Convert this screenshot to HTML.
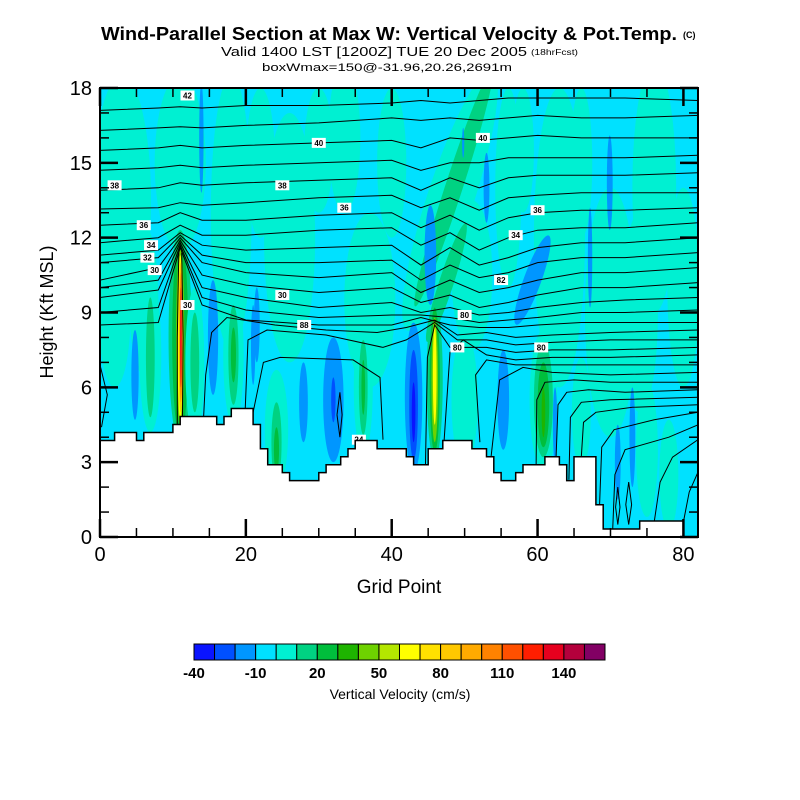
<!DOCTYPE html>
<html><head><meta charset="utf-8"><style>
html,body{margin:0;padding:0;background:#fff;}
svg{display:block;font-family:"Liberation Sans",Arial,sans-serif;}
</style></head><body>
<svg id="chart" width="800" height="800" viewBox="0 0 800 800" xmlns="http://www.w3.org/2000/svg">
<rect width="800" height="800" fill="#fff"/>
<g>
<text x="101" y="40" font-size="18" font-weight="bold" textLength="576" lengthAdjust="spacingAndGlyphs">Wind-Parallel Section at Max W: Vertical Velocity &amp; Pot.Temp.</text>
<text x="683" y="38" font-size="9" font-weight="bold">(C)</text>
<text x="221" y="56" font-size="13" textLength="306" lengthAdjust="spacingAndGlyphs">Valid 1400 LST [1200Z] TUE 20 Dec 2005</text>
<text x="531" y="55" font-size="8" textLength="47" lengthAdjust="spacingAndGlyphs">(18hrFcst)</text>
<text x="262" y="71" font-size="11" textLength="250" lengthAdjust="spacingAndGlyphs">boxWmax=150@-31.96,20.26,2691m</text>
</g>
<defs><clipPath id="plotclip"><rect x="100" y="88" width="598" height="449"/></clipPath></defs>
<g id="plot" clip-path="url(#plotclip)">
<rect x="100" y="88" width="598" height="449" fill="#00e1ff"/>
<g id="fills"></g>
<g id="contours" fill="none" stroke="#000" stroke-width="1"></g>
<g id="labels"></g>
<g id="terrain"></g>
</g>
<g id="axes"></g>
<text x="399" y="593" font-size="19" text-anchor="middle">Grid Point</text>
<text x="0" y="0" font-size="18" text-anchor="middle" transform="translate(53,312) rotate(-90)">Height (Kft MSL)</text>
<g id="colorbar"></g>
<text x="400" y="699" font-size="14" text-anchor="middle">Vertical Velocity (cm/s)</text>
</svg>
<script>
// ---- data ----
const palette = ["#0a14ff","#0050ff","#0096ff","#00e1ff","#00f0d2","#00d282","#00be3c","#1eb400","#6ed200","#b4e600","#ffff00","#ffe100","#ffc800","#ffaa00","#ff8200","#ff5000","#ff1e00","#e6001e","#b4003c","#820064"];
const colorbarTicks = ["-40","-10","20","50","80","110","140"];
const xTickLabels = ["0","20","40","60","80"];
const yTickLabels = ["0","3","6","9","12","15","18"];
const terrainEdges = [0,2,5,6,10,11,16,17,18,21,22,23,25,26,30,31,33,34,35,38,42,43,45,47,51,53,54,55,57,58,61,63,64,65,68,69,74,80,82];
const terrainHeights = [3.87,4.19,3.87,4.19,4.51,4.83,4.51,4.83,5.15,4.51,3.54,2.9,2.58,2.26,2.58,2.9,3.22,3.54,3.87,3.54,3.22,2.9,3.54,3.87,3.54,3.22,2.58,2.26,2.58,2.9,3.22,2.9,2.26,3.22,1.29,0.32,0.64,0.0];
// velocity features (ellipses): grid x, height, x-radius, h-radius, colour level, tilt
const featX  = [3,11,18,26,33.5,37,48,51,56,63,70,76,80,2, 6,22,30,40,58,74,66, 48.5,47.5, 6.9,6.9,4.8, 11,11,11,11,11.05,11.1,11.1, 13,13,15.5,18.3,18.3,18.3, 21.5,24.2,24.2,24.2,27.9,32,32,36.1,36.1,36.1, 43,43,43, 45.9,45.9,45.9,45.9, 50,55.3,60.8,60.8,60.8,60.8, 59.3,45.3, 66,71,73,75,78,62.4, 13.9,53,69.9,67.2,49.8,21];
const featH  = [13.5,15,13,12,16,9.5,13.5,10.5,14,12,9,14,10,9, 9.5,15,15.5,15,15.5,9,15, 14,10.2, 7.3,7.2,6.5, 8,8,8,8,8,8,8, 7,7,8,7.3,7.3,7.3, 8.5,4.3,3.8,3.5,5.4,5.5,5.5,6,6,6, 5.6,5.3,5.0, 6.3,6.3,6.3,6.5, 5.5,5.5,5.5,5.5,5.3,5.0, 10.3,11.3, 5,3,4,3.5,2.5,4.5, 16,14,14.2,11.2,15.8,7.7];
const featRX = [4,3.5,2.8,3.5,2.2,3.5,3.2,2.8,1.8,3.5,3.5,3,2.2,2.2, 2,2,2,2,1.5,2.5,1.5, 1.2,1.0, 1.5,0.6,0.5, 1.6,1.1,0.55,0.38,0.26,0.18,0.1, 1.3,0.6,0.7,1.4,0.7,0.35, 0.4,1.6,0.7,0.35,0.6,1.4,0.3,1.3,0.6,0.25, 1.2,0.6,0.25, 1.1,0.7,0.45,0.25, 1.8,0.8,1.9,1.3,0.8,0.25, 1.2,0.8, 1.3,0.4,0.4,1.5,1.3,0.3, 0.3,0.4,0.4,0.3,0.15,0.3];
const featRH = [5,3.5,5.5,5,3,3.5,5.5,3,4,6,5,5,4,3, 3,3,2.5,3,2.5,4,3, 5,2.5, 3.1,2.4,1.8, 4.3,4,3.6,3.3,3.0,2.6,2.0, 3,2,2.3,2.8,2.0,1.1, 1.5,2.4,1.6,0.9,1.6,2.5,0.9,2.7,1.9,1.1, 3,2.2,1.2, 3.2,2.9,2.5,2.0, 2.7,2,2.8,2.3,1.7,1.0, 1.9,2, 2.2,1.5,2,2.7,2.2,1.5, 2.2,1.4,1.9,2,0.6,1.6];
const featLvl= [4,4,4,4,4,4,4,4,4,4,4,4,4,4, 4,4,4,4,4,4,4, 5,5, 4,5,2, 5,6,8,10,12,14,17, 4,5,2,4,5,6, 2,4,5,6,2,2,1,4,5,6, 2,1,0, 5,6,8,10, 4,2,4,5,6,7, 2,2, 4,2,2,4,4,2, 2,2,2,2,2,2];
const featRot= [0,0,0,0,0,0,18,0,0,0,0,0,0,0, 0,0,0,0,0,0,0, 18,18, 0,0,0, 0,0,0,0,0,0,0, 0,0,0,0,0,0, 0,0,0,0,0,0,0,0,0,0, 0,0,0, 0,0,0,0, 0,0,0,0,0,0, 20,0, 0,0,0,0,0,0, 0,0,0,0,0,0];
const contourCols = [0,8,11,14,20,30,40,44,48,52,56,60,66,72,82];
const thetaRows = [
 [17.1,17.2,17.25,17.2,17.3,17.3,17.4,17.5,17.4,17.5,17.6,17.6,17.6,17.6,17.5],
 [16.3,16.4,16.45,16.4,16.5,16.6,16.8,16.7,16.8,16.7,16.8,16.9,16.8,16.8,16.9],
 [15.5,15.6,15.7,15.6,15.7,15.8,15.9,15.6,16.0,15.9,16.0,16.1,16.0,16.0,16.0],
 [14.7,14.8,14.9,14.8,14.9,15.0,15.1,14.7,15.0,15.0,15.2,15.2,15.2,15.2,15.3],
 [13.9,14.0,14.2,14.1,14.2,14.3,14.4,13.9,14.4,14.0,14.4,14.5,14.5,14.5,14.6],
 [13.15,13.2,13.4,13.3,13.4,13.6,13.7,13.2,13.6,13.1,13.6,13.7,13.8,13.8,13.8],
 [12.5,12.6,13.0,12.7,12.7,12.9,13.0,12.4,12.9,12.3,12.8,13.0,13.1,13.1,13.2],
 [11.8,12.0,12.5,12.1,12.1,12.3,12.4,11.7,12.2,11.5,12.0,12.3,12.4,12.4,12.6],
 [11.3,11.5,12.2,11.7,11.5,11.6,11.7,10.9,11.6,10.9,11.2,11.6,11.8,11.8,12.0],
 [11.0,11.2,12.1,11.3,11.0,11.0,11.1,10.3,10.9,10.4,10.6,11.0,11.2,11.2,11.4],
 [10.3,10.8,12.0,11.0,10.6,10.4,10.6,9.8,10.3,9.8,10.0,10.3,10.6,10.6,10.8],
 [10.0,10.3,11.9,10.5,10.1,9.8,10.0,9.4,9.7,9.2,9.4,9.7,10.0,10.0,10.2],
 [9.6,9.9,11.8,10.0,9.6,9.2,9.4,9.0,9.2,8.9,9.0,9.2,9.4,9.5,9.6],
 [9.0,9.2,11.7,9.6,9.1,8.8,8.9,8.9,8.8,8.6,8.7,8.8,9.0,9.0,9.1],
 [8.5,8.6,11.6,9.3,8.7,8.5,8.5,8.8,8.5,8.4,8.4,8.5,8.6,8.6,8.6]
];
const curvedContours = [
 [[14.2,4.8],[14.5,6.5],[15.3,8.2],[17.4,8.8],[24,8.5],[31,8.3],[38,8.2],[42,8.4],[45.9,8.7],[49,8.1],[53,8.2],[57,8.0],[62,8.1],[70,8.2],[82,8.3]],
 [[19.9,5.0],[20.3,7.9],[22.9,8.3],[31,8.1],[38.8,7.6],[42,7.9],[45.9,8.6],[49,7.9],[53,7.9],[57,7.7],[62,7.8],[70,7.9],[82,7.9]],
 [[21,5.0],[22.4,7.0],[24.7,7.2],[34.7,7.1],[38.4,6.4],[38.8,3.9]],
 [[44.6,2.5],[44.9,7.2],[45.9,8.5],[48,7.6],[53,7.6],[57,7.4],[62,7.5],[70,7.5],[82,7.6]],
 [[47.1,3.5],[48,7.4],[49.8,7.9],[53,7.3],[57,7.1],[62,7.2],[70,7.2],[82,7.3]],
 [[52.1,3.8],[51.5,6.5],[53,7.1],[57,6.9],[62,6.9],[70,6.9],[82,6.9]],
 [[53.5,2.9],[54.8,6.3],[58,6.8],[62,6.6],[70,6.5],[82,6.6]],
 [[59.8,2.8],[59.9,5.5],[61,6.2],[65,6.3],[70,6.2],[82,6.2]],
 [[62.5,2.9],[62.8,5.3],[64,5.8],[67,5.9],[72,5.8],[82,5.9]],
 [[64.3,2.3],[64.5,4.8],[66,5.4],[70,5.5],[82,5.6]],
 [[66,3.2],[66.3,4.6],[68,5.0],[73,5.2],[82,5.3]],
 [[68.5,1.2],[68.8,3.6],[70.5,4.3],[76,4.7],[82,5.0]],
 [[70.3,0.3],[70.6,2.5],[72,3.5],[78,4.0],[82,4.5]],
 [[76,0.6],[76.8,2.2],[78.5,3.2],[82,3.9]],
 [[80,0.6],[80.8,1.8],[82,2.6]],
 [[10.6,4.5],[10.6,8],[10.8,11.4]],
 [[11.3,4.5],[11.4,8],[11.2,11.4]],
 [[0,6.9],[1.0,5.7],[0.2,4.4]],
 [[32.5,4.9],[32.9,4.0],[33.2,4.9],[32.9,5.8],[32.5,4.9]],
 [[71,0.5],[71.3,1.2],[71,2.0],[70.7,1.2],[71,0.5]],
 [[72.5,0.5],[72.9,1.3],[72.5,2.2],[72.1,1.3],[72.5,0.5]]
];
const labelX = [12,30,52.5,25,2,6,33.5,6.5,7.5,12,25,28,60,57,55,50,60.5,49,7,35.5];
const labelH = [17.7,15.8,16.0,14.1,14.1,12.5,13.2,11.2,10.7,9.3,9.7,8.5,13.1,12.1,10.3,8.9,7.6,7.6,11.7,3.9];
const labelTxt = ["42","40","40","38","38","36","36","32","30","30","30","88","36","34","82","80","80","80","34","24"];

const X0=100,X1=698,Y0=537,Y1=88;
function xs(g){return X0+g*(X1-X0)/82;}
function ys(h){return Y0-h*(Y0-Y1)/18;}
const NS="http://www.w3.org/2000/svg";
function mk(tag,attrs,parent){const e=document.createElementNS(NS,tag);for(const k in attrs)e.setAttribute(k,attrs[k]);parent.appendChild(e);return e;}

const fills=document.getElementById('fills');
for(let i=0;i<featX.length;i++){
  const cx=xs(featX[i]),cy=ys(featH[i]);
  const e=mk('ellipse',{cx:cx,cy:cy,rx:featRX[i]*(X1-X0)/82,ry:featRH[i]*(Y0-Y1)/18,fill:palette[featLvl[i]]},fills);
  if(featRot[i])e.setAttribute('transform','rotate('+featRot[i]+' '+cx+' '+cy+')');
  
  
}
const cg=document.getElementById('contours');
thetaRows.forEach(row=>{
  const d=row.map((h,j)=>(j?'L':'M')+xs(contourCols[j]).toFixed(1)+' '+ys(h).toFixed(1)).join(' ');
  const p=mk('path',{d:d},cg);
  
  
});
curvedContours.forEach(pts=>{
  const d=pts.map((q,j)=>(j?'L':'M')+xs(q[0]).toFixed(1)+' '+ys(q[1]).toFixed(1)).join(' ');
  const p=mk('path',{d:d},cg);
  
  
});
const lg=document.getElementById('labels');
for(let i=0;i<labelX.length;i++){
  const x=xs(labelX[i]),y=ys(labelH[i]);
  const r=mk('rect',{x:x-7,y:y-5,width:14,height:10,fill:'#fff'},lg);
  
  
  const t=mk('text',{x:x,y:y+3,'font-size':8,'font-weight':'bold','text-anchor':'middle'},lg);
  t.textContent=labelTxt[i];
  
  
}
const tg=document.getElementById('terrain');
let d='M'+xs(0)+' '+ys(-1);
for(let i=0;i<terrainHeights.length;i++){
  d+=' L'+xs(terrainEdges[i]).toFixed(1)+' '+ys(terrainHeights[i]).toFixed(1)+' L'+xs(terrainEdges[i+1]).toFixed(1)+' '+ys(terrainHeights[i]).toFixed(1);
}
d+=' L'+xs(82)+' '+ys(-1)+' Z';
const tp=mk('path',{d:d,fill:'#fff',stroke:'#000','stroke-width':1.5},tg);



const ag=document.getElementById('axes');
const frame=mk('rect',{x:X0,y:Y1,width:X1-X0,height:Y0-Y1,fill:'none',stroke:'#000','stroke-width':2},ag);


for(let h=0;h<=18;h++){
  const major=h%3===0, L=major?18:9, y=ys(h);
  const t1=mk('line',{x1:X0,x2:X0+L,y1:y,y2:y,stroke:'#000','stroke-width':major?2.5:1.5},ag);
  
  
  const t2=mk('line',{x1:X1,x2:X1-L,y1:y,y2:y,stroke:'#000','stroke-width':major?2.5:1.5},ag);
  
  
}
yTickLabels.forEach(s=>{
  const t=mk('text',{x:92,y:ys(+s)+7,'font-size':20,'text-anchor':'end'},ag);
  t.textContent=s;
  
  
});
for(let g=0;g<=80;g+=5){
  const major=g%20===0, L=major?18:9, x=xs(g);
  const t1=mk('line',{x1:x,x2:x,y1:Y0,y2:Y0-L,stroke:'#000','stroke-width':major?2.5:1.5},ag);
  
  
  const t2=mk('line',{x1:x,x2:x,y1:Y1,y2:Y1+L,stroke:'#000','stroke-width':major?2.5:1.5},ag);
  
  
}
xTickLabels.forEach(s=>{
  const t=mk('text',{x:xs(+s),y:561,'font-size':20,'text-anchor':'middle'},ag);
  t.textContent=s;
  
  
});
const cb=document.getElementById('colorbar');
const CBX=194,CBW=411/20;
palette.forEach((c,i)=>{
  const r=mk('rect',{x:CBX+i*CBW,y:644,width:CBW,height:16,fill:c,stroke:'#000','stroke-width':1},cb);
  
  
});
colorbarTicks.forEach((s,i)=>{
  const t=mk('text',{x:CBX+i*3*CBW,y:678,'font-size':15,'font-weight':'bold','text-anchor':'middle'},cb);
  t.textContent=s;
  
  
});
</script>
</body></html>
